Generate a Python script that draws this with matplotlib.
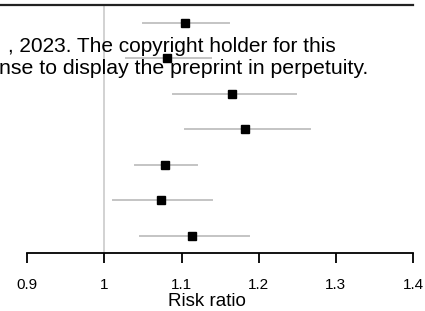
import matplotlib
matplotlib.use("Agg")
import matplotlib.pyplot as plt

plt.rcParams["font.family"] = ["Liberation Sans", "DejaVu Sans"]

# risk ratios and 95% CI, top row first
rr = [1.104, 1.081, 1.165, 1.182, 1.078, 1.073, 1.114]
lo = [1.050, 1.028, 1.089, 1.104, 1.040, 1.011, 1.046]
hi = [1.161, 1.138, 1.248, 1.266, 1.120, 1.140, 1.187]
rows = list(range(len(rr)))
xticks = [0.9, 1.0, 1.1, 1.2, 1.3, 1.4]
xticklabels = ["0.9", "1", "1.1", "1.2", "1.3", "1.4"]

fig = plt.figure(figsize=(4.25, 3.11), dpi=100)
ax = fig.add_axes([0, 58 / 311, 413 / 425, 248 / 311])

ax.axvline(1.0, color="#cfcfcf", lw=1.3, zorder=1)
for r, l, h in zip(rows, lo, hi):
    ax.plot([l, h], [r, r], color="#c4c4c4", lw=1.4, zorder=2)
ax.plot(rr, rows, "s", color="black", ms=6, zorder=3)

ax.set_xlim(0.8646, 1.4)
ax.set_ylim(6.479, -0.507)

for s in ["left", "right"]:
    ax.spines[s].set_visible(False)
ax.spines["top"].set_linewidth(1.6)
ax.spines["top"].set_color("#222222")
ax.spines["bottom"].set_linewidth(1.3)
ax.spines["bottom"].set_bounds(0.9, 1.4)

ax.set_yticks([])
ax.set_xticks(xticks)
ax.set_xticklabels(xticklabels, fontsize=11)
ax.tick_params(axis="x", direction="out", length=7.2, width=1.3, pad=11)
ax.set_xlabel("Risk ratio", fontsize=13.5, labelpad=0.5)

# medRxiv watermark overlay (cut at the left edge in the source)
fig.text(8 / 425, 1 - 47 / 311, ", 2023. The copyright holder for this",
         fontsize=15, va="center", ha="left")
fig.text(368 / 425, 1 - 68 / 311, "nse to display the preprint in perpetuity.",
         fontsize=15.3, va="center", ha="right")

fig.savefig("out.png", dpi=100)
